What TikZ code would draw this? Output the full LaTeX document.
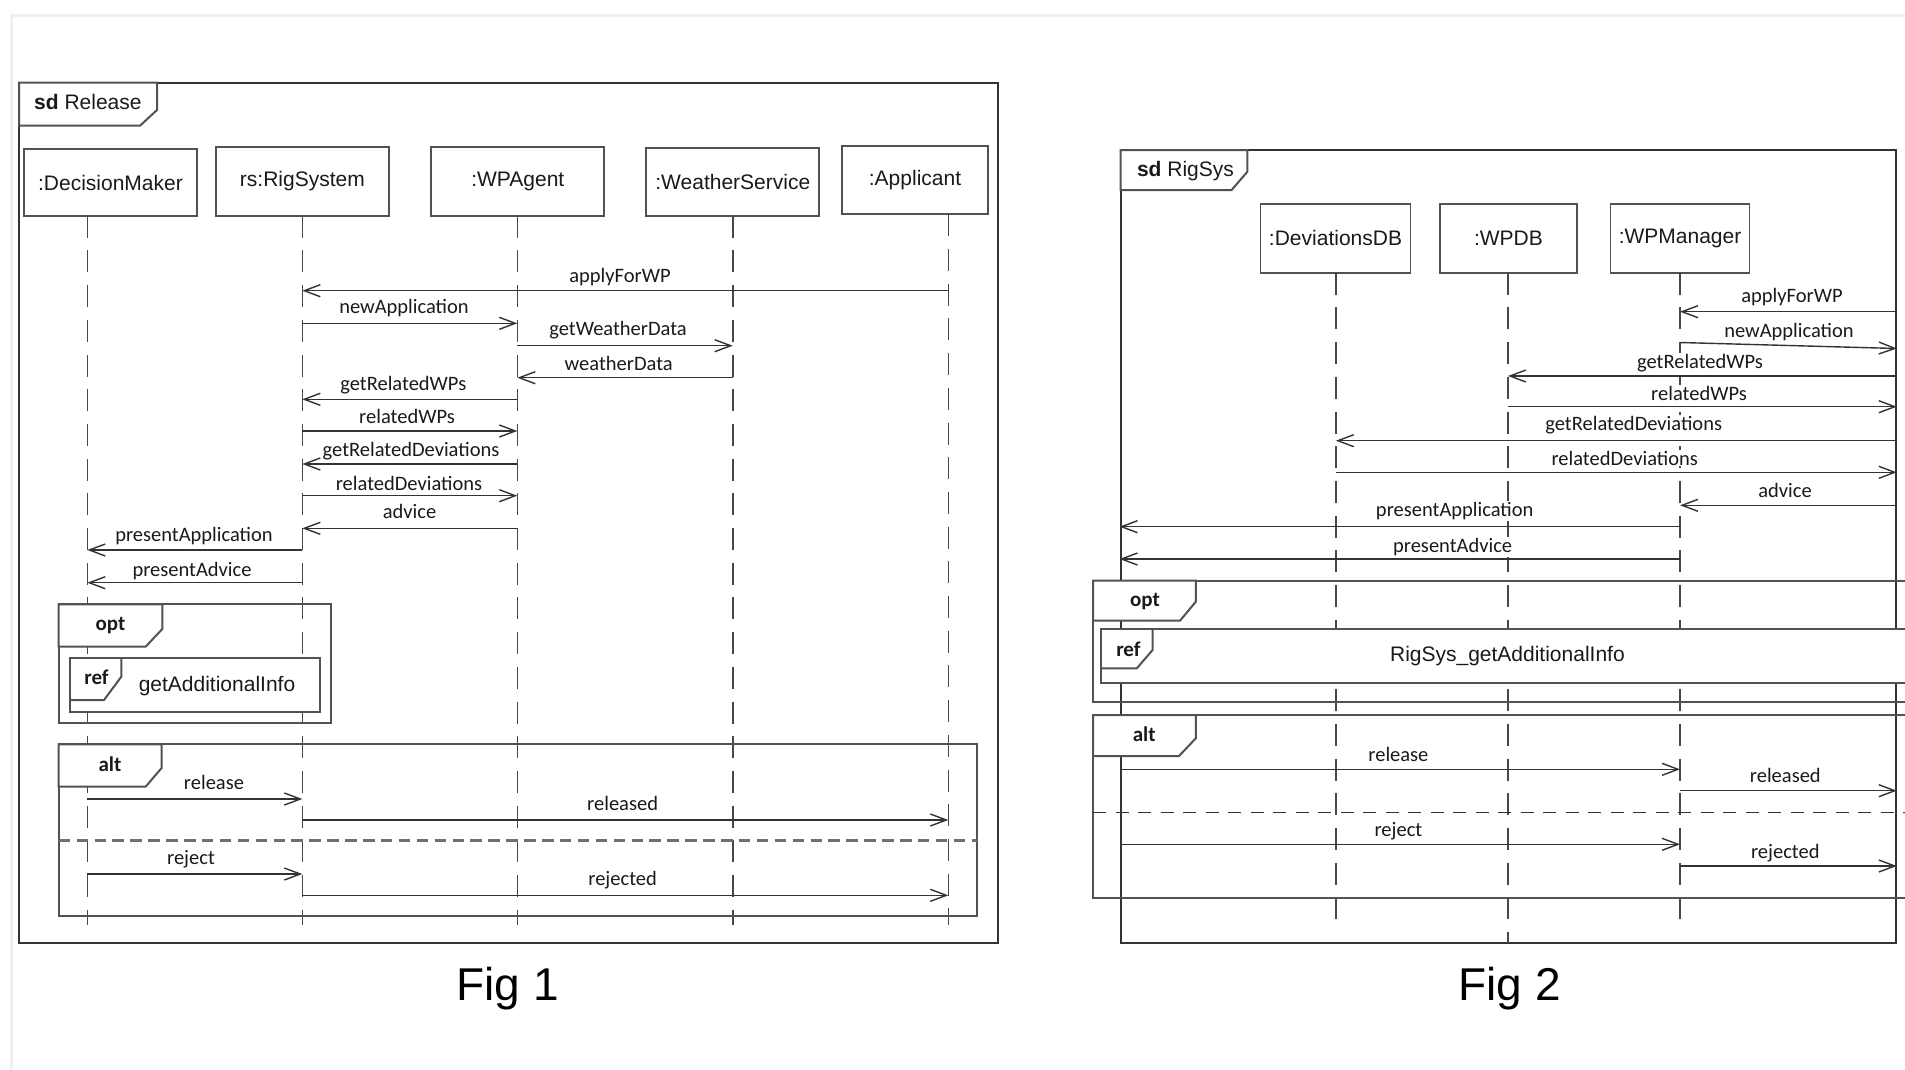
\documentclass[tikz,border=0pt]{standalone}
\usepackage{fontspec}
\setmainfont{Liberation Sans}
\newfontfamily\lblfont{Carlito}
\usetikzlibrary{arrows.meta}
\definecolor{ln}{HTML}{333333}
\definecolor{txt}{HTML}{1A1A1A}
\definecolor{bord}{HTML}{EFEFEF}
\tikzset{
  head/.style={draw=ln!85, line width=1.8pt, fill=white, inner sep=0pt, text=txt,
    font=\fontsize{21}{25}\selectfont},
  lifeline/.style={draw=ln!90, line width=1.6pt, dash pattern=on 22pt off 12.7pt},
  msg/.style={draw=ln, line width=1.4pt, -{Straight Barb[length=16pt,width=12pt]}},
  lbl/.style={font=\lblfont\fontsize{20.5}{24}\selectfont, anchor=base, inner sep=1pt, fill=white, text=txt},
  kw/.style={font=\lblfont\bfseries\fontsize{21}{25}\selectfont, anchor=base, inner sep=0pt, text=txt},
  frm/.style={draw=ln, line width=2pt, inner sep=0pt},
  frag/.style={draw=ln!85, line width=2pt},
  tabbox/.style={draw=ln!85, line width=2pt, fill=white},
  reftext/.style={font=\fontsize{21}{25}\selectfont, anchor=base, inner sep=0pt, text=txt},
  caption/.style={font=\fontsize{46}{52}\selectfont, anchor=base, inner sep=0pt, text=black},
}
\newcommand\Msg[7]{%
  \draw[msg] (#1 |- 0,#3) -- (#2 |- 0,#3);
  \node[lbl] (#7) at (#4,#5) {#6};}
\begin{document}
\begin{tikzpicture}[x=1pt,y=-1pt]
\useasboundingbox (0,0) rectangle (1905,1069);
\clip (0,0) rectangle (1905,1069);
\fill[white] (0,0) rectangle (1905,1069);
% faint page border
\draw[bord, line width=3pt] (10,15.3) -- (1905,15.3);
\draw[bord, line width=3pt] (11.5,14) -- (11.5,1069);

% ================= Fig 1 =================
\node[frm, minimum width=979.3pt, minimum height=860.6pt] (f1) at (508.65,513) {};
\draw[tabbox] (19,82.7) -- (157,82.7) -- (157,110) -- (140,125.7) -- (19,125.7) -- cycle;
\node[anchor=base west, inner sep=0pt, text=txt, font=\fontsize{21}{25}\selectfont] (sd1) at (34,109.3) {\textbf{sd} Release};

\node[head, minimum width=172.4pt, minimum height=66.4pt] (dm) at (110.5,182.5) {:DecisionMaker};
\node[head, minimum width=172.7pt, minimum height=68.4pt] (rs) at (302.35,181.5) {rs:RigSystem};
\node[head, minimum width=173pt, minimum height=68.4pt] (wpa) at (517.8,181.5) {:WPAgent};
\node[head, minimum width=173pt, minimum height=68pt] (ws) at (732.8,181.7) {:WeatherService};
\node[head, minimum width=145.4pt, minimum height=68.6pt] (app) at (915,180) {:Applicant};

\coordinate (dmL) at (87.3,215.7);
\coordinate (rsL) at (302.3,215.7);
\coordinate (wpaL) at (517.3,215.7);
\coordinate (wsL) at (732.7,215.7);
\coordinate (appL) at (948.3,214.3);
\foreach \c in {dmL,rsL,wpaL,wsL,appL}{\draw[lifeline] (\c) -- (\c |- 0,925);}

% opt fragment
\draw[frag] (58.7,604.3) rectangle (330.8,723.3);
\draw[tabbox] (58.7,604.3) -- (162.3,604.3) -- (162.3,629) -- (145.6,646.7) -- (58.7,646.7) -- cycle;
\node[kw] (opt1) at (110.5,630) {opt};
\node[draw=ln!85, line width=2pt, fill=white, inner sep=0pt, minimum width=249.8pt, minimum height=54.3pt] (ref1) at (195.1,684.85) {};
\draw[draw=ln!85, line width=2pt] (121.3,657.7) -- (121.3,676.7) -- (104,700) -- (70.2,700);
\node[kw] (ref1kw) at (96.5,684) {ref};
\node[reftext] (ref1t) at (217,691) {getAdditionalInfo};

% alt fragment
\draw[frag] (58.7,744.3) rectangle (977,916);
\draw[tabbox] (58.7,744.3) -- (161.6,744.3) -- (161.6,768) -- (145.6,786.7) -- (58.7,786.7) -- cycle;
\node[kw] (alt1) at (110,771.7) {alt};
\draw[draw=ln!70, line width=2.5pt, dash pattern=on 11.5pt off 6.4pt] (58.7,840.7) -- (977,840.7);

\Msg{appL}{rsL}{290.7}{620}{282.7}{applyForWP}{m1}
\Msg{rsL}{wpaL}{323.3}{404}{313.3}{newApplication}{m2}
\Msg{wpaL}{wsL}{345.7}{618}{335}{getWeatherData}{m3}
\Msg{wsL}{wpaL}{377.7}{618.7}{370}{weatherData}{m4}
\Msg{wpaL}{rsL}{399.3}{403.3}{390}{getRelatedWPs}{m5}
\Msg{rsL}{wpaL}{431}{407}{423.3}{relatedWPs}{m6}
\Msg{wpaL}{rsL}{464}{411}{456.7}{getRelatedDeviations}{m7}
\Msg{rsL}{wpaL}{495.7}{409}{490}{relatedDeviations}{m8}
\Msg{wpaL}{rsL}{528.3}{409.5}{518.3}{advice}{m9}
\Msg{rsL}{dmL}{550}{194}{541.7}{presentApplication}{m10}
\Msg{rsL}{dmL}{582.7}{192}{576}{presentAdvice}{m11}
\Msg{dmL}{rsL}{799}{214}{789}{release}{m12}
\Msg{rsL}{appL}{820}{622.6}{810.5}{released}{m13}
\Msg{dmL}{rsL}{874}{191}{864}{reject}{m14}
\Msg{rsL}{appL}{895.3}{622.6}{885}{rejected}{m15}

\node[caption] (cap1) at (507.8,1000) {Fig 1};

% ================= Fig 2 =================
\node[frm, minimum width=775.3pt, minimum height=793.3pt] (f2) at (1508.15,546.65) {};
\draw[tabbox] (1120.5,150) -- (1247.4,150) -- (1247.4,171.7) -- (1231.6,190) -- (1120.5,190) -- cycle;
\node[anchor=base west, inner sep=0pt, text=txt, font=\fontsize{21}{25}\selectfont] (sd2) at (1136.8,176.5) {\textbf{sd} RigSys};

\node[head, minimum width=150pt, minimum height=68.7pt] (ddb) at (1335.5,238.35) {:DeviationsDB};
\node[head, minimum width=136.8pt, minimum height=68.7pt] (wpdb) at (1508.4,238.35) {:WPDB};
\node[head, minimum width=139pt, minimum height=68.7pt] (wpm) at (1680,238.35) {:WPManager};

\coordinate (ddbL) at (1335.8,272.7);
\coordinate (wpdbL) at (1507.9,272.7);
\coordinate (wpmL) at (1680,272.7);
\draw[lifeline] (ddbL) -- (ddbL |- 0,925);
\draw[lifeline] (wpdbL) -- (wpdbL |- 0,943);
\draw[lifeline] (wpmL) -- (wpmL |- 0,925);

% opt fragment
\draw[frag] (1920,580.7) -- (1093.2,580.7) -- (1093.2,701.7) -- (1920,701.7);
\draw[tabbox] (1093.2,580.7) -- (1195.8,580.7) -- (1195.8,601.7) -- (1180,620.7) -- (1093.2,620.7) -- cycle;
\node[kw] (opt2) at (1145,606.7) {opt};
\node[draw=ln!85, line width=2pt, fill=white, inner sep=0pt, minimum width=830pt, minimum height=54pt] (ref2) at (1516,656.3) {};
\draw[draw=ln!85, line width=2pt] (1152.6,629.3) -- (1152.6,650) -- (1136.8,668.3) -- (1101,668.3);
\node[kw] (ref2kw) at (1128.4,656) {ref};
\node[reftext] (ref2t) at (1507.4,661.7) {RigSys\_getAdditionalInfo};

% alt fragment
\draw[frag] (1920,715) -- (1093.2,715) -- (1093.2,897.7) -- (1920,897.7);
\draw[tabbox] (1093.2,715) -- (1195.8,715) -- (1195.8,738.3) -- (1179,756) -- (1093.2,756) -- cycle;
\node[kw] (alt2) at (1144.2,741.7) {alt};
\draw[draw=ln, line width=1.6pt, dash pattern=on 13pt off 9.5pt] (1093.2,812.3) -- (1920,812.3);

\Msg{f2.east}{wpmL}{311.7}{1792}{302.3}{applyForWP}{n1}
\draw[msg] (wpmL |- 0,342.5) -- (f2.east |- 0,348.5);
\node[lbl] (n2) at (1789,337.7) {newApplication};
\Msg{f2.east}{wpdbL}{376}{1700}{368.3}{getRelatedWPs}{n3}
\Msg{wpdbL}{f2.east}{406.7}{1699}{400}{relatedWPs}{n4}
\Msg{f2.east}{ddbL}{440.7}{1633.7}{430}{getRelatedDeviations}{n5}
\Msg{ddbL}{f2.east}{472.3}{1624.7}{465}{relatedDeviations}{n6}
\Msg{f2.east}{wpmL}{505.3}{1785}{497.3}{advice}{n7}
\Msg{wpmL}{f2.west}{526.7}{1454.7}{516.7}{presentApplication}{n8}
\Msg{wpmL}{f2.west}{559}{1452.6}{552.7}{presentAdvice}{n9}
\Msg{f2.west}{wpmL}{769.3}{1398.4}{761.7}{release}{n10}
\Msg{wpmL}{f2.east}{790.7}{1785.3}{782.3}{released}{n11}
\Msg{f2.west}{wpmL}{844.3}{1398.4}{836.7}{reject}{n12}
\Msg{wpmL}{f2.east}{866}{1785.3}{858.3}{rejected}{n13}

\node[caption] (cap2) at (1509.5,1000) {Fig 2};
\end{tikzpicture}
\end{document}
